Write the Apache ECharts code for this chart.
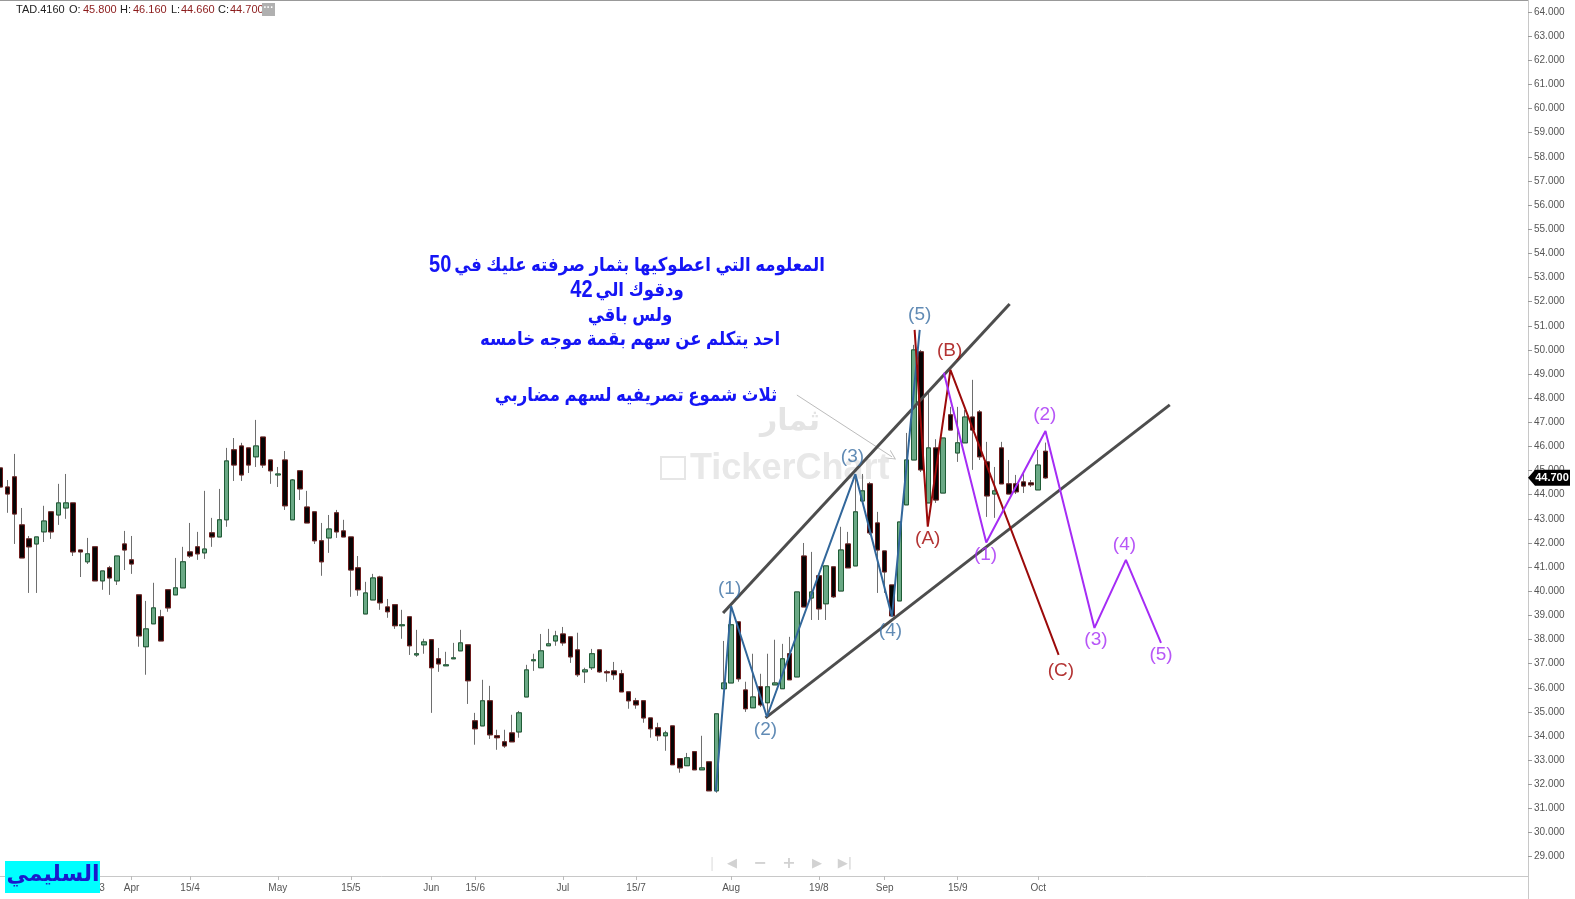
<!DOCTYPE html>
<html>
<head>
<meta charset="utf-8">
<script src="https://cdn.jsdelivr.net/npm/echarts@6/dist/echarts.min.js"></script>
<style>
    html, body{ margin: 0; padding: 0; background: #fff;}
    #chart{ width: 1575px; height: 899px;}
</style>
</head>
<body>
<div id="chart"></div>
<script>
    // TAD.4160 daily candles
    const opens = [45.11,44.32,44.74,42.75,42.17,41.96,42.46,43.29,43.16,43.45,43.66,41.71,41.22,41.84,40.43,40.97,40.43,41.96,41.30,39.85,
        37.70,38.65,38.94,40.06,39.85,40.14,41.63,41.84,41.59,42.42,42.25,42.96,45.86,46.02,45.94,45.57,46.39,45.44,44.82,45.44,
        42.96,44.99,43.49,43.29,42.09,42.21,43.25,42.50,42.25,40.97,39.06,39.64,40.59,39.35,39.44,38.57,38.94,37.36,37.78,37.99,
        37.20,36.91,37.20,37.53,37.78,34.63,34.42,35.46,34.01,33.76,34.13,34.17,35.62,37.12,36.83,37.74,37.94,38.23,38.11,37.57,
        36.66,36.83,37.57,36.66,36.70,36.58,35.83,35.46,35.46,34.75,34.34,34.01,34.42,33.06,32.77,33.35,32.60,32.93,31.73,35.96,
        36.20,38.73,35.91,35.17,36.04,35.38,36.12,35.96,37.41,36.45,41.46,39.72,40.64,39.48,41.01,40.01,41.96,41.05,43.74,44.45,
        42.83,41.67,40.26,39.60,43.58,45.44,49.92,43.66,45.94,44.07,47.31,45.73,46.15,47.22,47.43,45.36,44.03,45.94,44.45,44.45,
        44.53,44.49,44.20,45.80];
    const highs = [45.23,44.61,45.69,43.45,42.29,42.25,43.54,43.29,44.45,44.86,43.66,41.71,42.21,41.84,40.84,41.05,41.46,42.50,42.29,39.85,
        39.60,40.35,39.23,40.06,41.38,41.84,42.83,42.46,44.16,43.04,44.24,45.94,46.35,46.15,45.94,47.10,46.39,45.44,45.15,45.81,
        44.65,44.99,44.16,43.29,42.83,43.16,43.37,42.96,42.25,41.46,40.39,40.72,40.64,39.68,39.44,39.23,38.94,38.40,38.03,37.99,
        37.65,37.49,37.86,38.40,37.78,34.96,36.33,36.08,34.26,34.26,34.88,35.04,36.95,37.41,38.23,38.44,38.36,38.52,38.11,38.28,
        36.83,37.61,37.57,36.74,37.07,36.74,35.83,35.58,35.46,34.75,34.55,34.22,34.42,33.06,33.30,33.35,34.01,32.93,34.92,37.94,
        39.23,38.73,36.25,37.41,36.58,37.41,37.99,37.82,38.11,39.97,42.00,41.63,40.64,41.05,41.01,42.67,42.46,44.70,44.86,44.53,
        43.29,41.67,40.26,42.87,46.56,50.21,50.00,48.26,46.30,46.35,47.64,47.64,47.51,48.76,47.51,46.19,45.15,46.19,45.44,44.82,
        44.90,44.61,45.86,46.16];
    const lows = [44.20,43.25,41.96,41.38,39.93,39.93,42.04,42.17,42.75,43.00,41.46,40.59,41.13,40.43,40.06,39.85,40.26,40.88,40.72,37.70,
        36.54,38.65,37.94,39.15,39.85,40.14,41.38,41.30,41.34,41.84,42.25,42.67,44.57,44.57,44.90,45.15,45.11,44.45,44.32,43.37,
        42.96,43.78,42.83,41.96,40.64,41.59,42.21,42.25,39.77,39.81,39.06,39.64,39.23,38.90,38.44,38.03,37.36,37.28,37.41,34.96,
        36.66,36.91,37.20,37.53,35.33,33.64,34.42,33.88,33.43,33.51,33.76,33.93,35.62,36.70,36.83,37.74,37.74,37.74,37.03,36.45,
        36.20,36.74,36.62,36.25,36.33,35.83,35.13,35.13,34.55,33.93,33.80,33.39,32.81,32.48,32.77,32.60,32.60,31.73,31.65,35.96,
        36.20,36.25,35.00,35.17,35.20,34.96,36.12,35.96,36.33,36.45,39.35,38.81,38.81,38.81,39.72,40.01,40.97,41.05,43.74,42.33,
        39.93,39.93,38.98,39.60,43.58,45.44,44.94,43.66,43.66,44.07,46.68,45.36,46.15,45.03,45.44,43.08,43.04,44.45,44.03,44.03,
        44.07,44.32,44.20,44.66];
    const closes = [44.32,44.03,43.20,41.38,41.84,42.25,42.91,42.46,43.66,43.66,41.63,41.63,41.55,40.43,40.84,40.55,41.46,41.71,41.13,38.15,
        38.44,39.31,37.94,39.31,40.14,41.22,41.46,41.55,41.75,42.25,42.96,45.40,45.23,44.82,45.23,46.02,45.23,44.99,44.86,43.54,
        44.61,44.24,42.83,42.09,41.22,42.58,42.46,42.25,40.88,40.06,39.93,40.55,39.52,39.15,38.57,38.61,37.74,37.41,37.90,36.83,
        36.99,36.95,37.24,37.86,36.29,34.30,35.46,34.05,33.93,33.59,33.76,34.96,36.74,37.16,37.53,37.82,38.15,37.86,37.28,36.54,
        36.74,37.41,36.66,36.62,36.54,35.83,35.46,35.29,34.75,34.30,34.01,34.13,32.81,32.68,33.10,32.60,32.68,31.73,34.92,36.20,
        38.61,36.37,35.13,35.62,35.29,36.04,36.20,37.20,36.33,39.97,39.35,39.97,39.27,41.05,39.77,41.71,40.97,43.29,44.16,42.42,
        41.71,40.80,38.98,42.87,45.44,50.00,45.03,45.94,43.78,46.35,46.68,46.15,47.22,46.68,45.57,43.95,44.16,44.45,44.03,44.12,
        44.36,44.41,45.23,44.70];

    // date labels by candle slot; slots after the last candle are empty future space
    const tickLabels = {4:'15/3', 13:'25/3', 18:'Apr', 26:'15/4', 38:'May', 48:'15/5', 59:'Jun', 65:'15/6', 77:'Jul',
        87:'15/7', 100:'Aug', 112:'19/8', 121:'Sep', 131:'15/9', 142:'Oct'};
    const slotCount = 210;
    const priceLabels = [29,30,31,32,33,34,35,36,37,38,39,40,41,42,43,44,45,46,47,48,49,50,51,52,53,54,55,56,57,58,59,60,61,62,63,64];

    // hand-drawn waves: [slot, price]
    const blueWave = [[97.9,31.70],[100.0,39.39],[104.9,34.80],[117.0,44.85],[122.0,38.95],[125.8,50.83]];
    const blueTags = [[99.8,40.10,'(1)'],[104.7,34.26,'(2)'],[116.6,45.57,'(3)'],[121.8,38.36,'(4)'],[125.8,51.45,'(5)']];
    const redWave = [[125.1,50.83],[126.9,42.68],[130.0,49.17],[144.8,37.36]];
    const redTags = [[126.9,42.17,'(A)'],[129.9,49.96,'(B)'],[145.1,36.70,'(C)']];
    const purpleWave = [[129.1,49.05],[134.9,42.02],[143.0,46.64],[149.7,38.48],[154.0,41.30],[158.8,37.86]];
    const purpleTags = [[134.8,41.51,'(1)'],[142.9,47.31,'(2)'],[149.9,37.99,'(3)'],[153.8,41.92,'(4)'],[158.8,37.36,'(5)']];
    const channelUpper = [[98.9,39.10],[138.1,51.90]];
    const channelLower = [[104.7,34.75],[160.0,47.72]];
    const arrowLine = [[109.0,48.13],[122.0,45.57]];

    // note lines, the number goes on the left as in right-to-left text
    const notes = ['{n|50} {a|المعلومه التي اعطوكيها بثمار صرفته عليك في}', '{n|42} {a|ودقوك الي}', '{a|ولس باقي}',
        '{a|احد يتكلم عن سهم بقمة موجه خامسه}'];
    const note2 = '{a|ثلاث شموع تصريفيه لسهم مضاربي}';

    const categories = Array.from({length: slotCount}, (_, i) => String(i));
    const last = closes.length - 1;
    const wickData = opens.map((o, i) => [o, closes[i], lows[i], highs[i]]);
    const bodyData = opens.map((o, i) => [o, closes[i], Math.min(o, closes[i]), Math.max(o, closes[i])]);

    const arabic = 'Arial, "DejaVu Sans", sans-serif';
    const latin = '"Liberation Sans", Arial, sans-serif';

    function tagSeries(tags, color){
        return {
            type: 'scatter', xAxisIndex: 1, symbolSize: 1, silent: true, z: 6,
            itemStyle: {color: 'rgba(0,0,0,0)'},
            label: {show: true, position: 'inside', fontSize: 19, fontFamily: latin, color: color,
                formatter: p => p.data[2]},
            data: tags
        };
    }
    function waveSeries(pts, color, width){
        return {
            type: 'line', xAxisIndex: 1, data: pts, symbol: 'none', silent: true, z: 5,
            lineStyle: {color: color, width: width}
        };
    }
    function note(text, x, y){
        return {type: 'text', z: 100, x: x, y: y, scaleX: 0.87,
            style: {x: 0, y: 0, text: text, fill: '#1515f5', align: 'center', verticalAlign: 'middle',
                rich: {
                    a: {font: 'bold 19px ' + arabic, fill: '#1515f5'},
                    n: {font: 'bold 23px ' + latin, fill: '#1515f5'}
                }}};
    }
    function button(text, x, font, fill){
        return {type: 'text', silent: true, style: {x: x, y: 864, text: text, font: font, fill: fill, align: 'center', verticalAlign: 'middle'}};
    }

    const chart = echarts.init(document.getElementById('chart'));
    chart.setOption({
        animation: false,
        backgroundColor: '#fff',
        grid: {left: 0, right: 47, top: 0, bottom: 23},
        xAxis: [{
            type: 'category', data: categories, boundaryGap: false,
            axisLine: {lineStyle: {color: '#c8c8c8'}},
            axisTick: {interval: i => i in tickLabels, length: 4, lineStyle: {color: '#bbb'}},
            axisLabel: {interval: i => i in tickLabels, formatter: (v, i) => tickLabels[i] || '',
                color: '#555', fontSize: 10, fontFamily: latin, margin: 7},
            splitLine: {show: false}
        }, {
            type: 'value', min: 0, max: slotCount - 1, show: false
        }],
        yAxis: {
            type: 'value', position: 'right', min: 28.2, max: 64.5, scale: true,
            axisLine: {show: true, onZero: false, lineStyle: {color: '#c8c8c8'}},
            axisTick: {show: true, length: 4, customValues: priceLabels, lineStyle: {color: '#999'}},
            axisLabel: {customValues: priceLabels, formatter: v => v.toFixed(3), color: '#555',
                fontSize: 10, fontFamily: latin, margin: 6},
            splitLine: {show: false}
        },
        series: [{
            type: 'candlestick', data: wickData, barWidth: 5, z: 2,
            itemStyle: {color: '#6e6e6e', color0: '#6e6e6e', borderColor: '#6e6e6e', borderColor0: '#6e6e6e', borderWidth: 1}
        }, {
            type: 'candlestick', data: bodyData, barWidth: 5, z: 3,
            itemStyle: {color: '#6aa985', color0: '#050505', borderColor: '#1f5c36', borderColor0: '#6e1c1c', borderWidth: 1},
            markPoint: {
                symbol: 'path://M0,8 L8,0 L48,0 L48,16 L8,16 Z', symbolSize: [42, 16], symbolOffset: [21, 0],
                itemStyle: {color: '#000'},
                label: {color: '#fff', fontWeight: 'bold', fontSize: 11, fontFamily: latin, offset: [3, 0],
                    formatter: () => closes[last].toFixed(3)},
                data: [{coord: [slotCount - 1, closes[last]]}]
            }
        },
            waveSeries(channelUpper, '#4d4d4d', 3),
            waveSeries(channelLower, '#4d4d4d', 3),
            waveSeries(blueWave, '#32679b', 2),
            waveSeries(redWave, '#9b0a0a', 2),
            waveSeries(purpleWave, '#a52cf5', 2),
        {
            type: 'lines', coordinateSystem: 'cartesian2d', xAxisIndex: 1, silent: true, z: 5,
            symbol: ['none', 'path://M0,10 L5,0 L10,10 L9,10 L5,2 L1,10 Z'], symbolSize: 10,
            lineStyle: {color: '#777', width: 1},
            data: [{coords: arrowLine}]
        },
            tagSeries(blueTags, '#3a6ea3'),
            tagSeries(redTags, '#a00000'),
            tagSeries(purpleTags, '#a52cf5')
        ],
        graphic: [
            {type: 'line', shape: {x1: 0, y1: 0.5, x2: 1528, y2: 0.5}, style: {stroke: '#999', lineWidth: 1}, silent: true},
            {type: 'line', shape: {x1: 1528.5, y1: 876, x2: 1528.5, y2: 899}, style: {stroke: '#c8c8c8', lineWidth: 1}, silent: true},
            // watermark
            {type: 'text', z: 0, silent: true, style: {x: 790, y: 422, text: 'ثمار', font: 'bold 30px ' + arabic, fill: '#e4e4e4', align: 'center', verticalAlign: 'middle'}},
            {type: 'rect', z: 0, silent: true, shape: {x: 661, y: 457, width: 24, height: 22}, style: {fill: 'none', stroke: '#e6e6e6', lineWidth: 2}},
            {type: 'text', z: 0, silent: true, style: {x: 690, y: 469, text: 'TickerChart', font: 'bold 36px ' + latin, fill: '#e8e8e8', verticalAlign: 'middle'}},
            // header
            {type: 'text', style: {x: 16, y: 10, text: 'TAD.4160', font: '11px ' + latin, fill: '#222', verticalAlign: 'middle'}},
            {type: 'text', style: {x: 69, y: 10, text: 'O:', font: '11px ' + latin, fill: '#222', verticalAlign: 'middle'}},
            {type: 'text', style: {x: 83, y: 10, text: opens[last].toFixed(3), font: '11px ' + latin, fill: '#8b1a1a', verticalAlign: 'middle'}},
            {type: 'text', style: {x: 120, y: 10, text: 'H:', font: '11px ' + latin, fill: '#222', verticalAlign: 'middle'}},
            {type: 'text', style: {x: 133, y: 10, text: highs[last].toFixed(3), font: '11px ' + latin, fill: '#8b1a1a', verticalAlign: 'middle'}},
            {type: 'text', style: {x: 171, y: 10, text: 'L:', font: '11px ' + latin, fill: '#222', verticalAlign: 'middle'}},
            {type: 'text', style: {x: 181, y: 10, text: lows[last].toFixed(3), font: '11px ' + latin, fill: '#8b1a1a', verticalAlign: 'middle'}},
            {type: 'text', style: {x: 218, y: 10, text: 'C:', font: '11px ' + latin, fill: '#222', verticalAlign: 'middle'}},
            {type: 'text', style: {x: 230, y: 10, text: closes[last].toFixed(3), font: '11px ' + latin, fill: '#8b1a1a', verticalAlign: 'middle'}},
            {type: 'rect', shape: {x: 262, y: 3, width: 13, height: 13}, style: {fill: '#b0b0b0'}},
            {type: 'text', style: {x: 268.5, y: 8, text: '···', font: 'bold 10px ' + latin, fill: '#fff', align: 'center', verticalAlign: 'middle'}},
            // notes
            note(notes[0], 627, 266),
            note(notes[1], 627, 291),
            note(notes[2], 630, 316),
            note(notes[3], 630, 340),
            note(note2, 636, 396),
            // scroll buttons
            button('|', 712, '14px ' + latin, '#e0e0e0'),
            button('◀', 732, '13px "DejaVu Sans"', '#d2d2d2'),
            button('−', 760, 'bold 16px "DejaVu Sans"', '#d2d2d2'),
            button('+', 789, 'bold 16px "DejaVu Sans"', '#d2d2d2'),
            button('▶', 817, '13px "DejaVu Sans"', '#d2d2d2'),
            button('▶|', 845, '13px "DejaVu Sans"', '#d2d2d2'),
            // signature
            {type: 'rect', z: 100, shape: {x: 5, y: 861, width: 95, height: 32}, style: {fill: '#00ffff'}},
            {type: 'text', z: 101, style: {x: 53, y: 875, text: 'السليمي', font: 'bold 22px ' + arabic, fill: '#1a1acc', align: 'center', verticalAlign: 'middle'}}
        ]
    });
</script>
</body>
</html>
